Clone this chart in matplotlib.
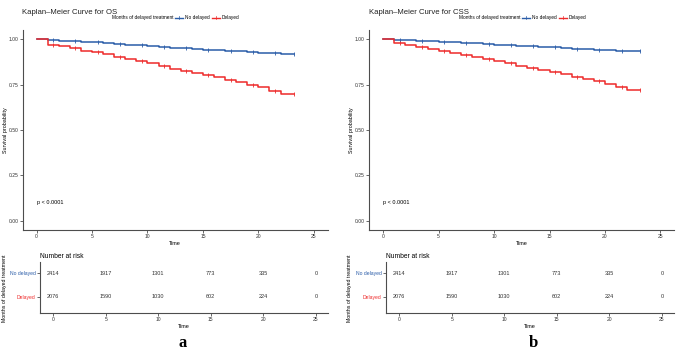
import matplotlib.pyplot as plt
import numpy as np
from matplotlib.lines import Line2D

plt.rcParams['font.family'] = ['Liberation Sans', 'DejaVu Sans']

# ---- data ----
months = [0, 1, 2, 3, 4, 5, 6, 7, 8, 9, 10, 11, 12, 13, 14, 15, 16, 17, 18, 19, 20, 21, 22, 23.2]

os_no_delay = [1.000, 0.995, 0.992, 0.989, 0.986, 0.982, 0.977, 0.973, 0.969, 0.967, 0.964, 0.958,
               0.953, 0.950, 0.946, 0.942, 0.940, 0.937, 0.935, 0.931, 0.926, 0.922, 0.917, 0.917]
os_delay = [1.000, 0.970, 0.962, 0.950, 0.937, 0.927, 0.917, 0.904, 0.891, 0.880, 0.868, 0.852,
            0.837, 0.826, 0.815, 0.804, 0.789, 0.774, 0.762, 0.750, 0.735, 0.717, 0.700, 0.700]

css_no_delay = [1.000, 0.995, 0.993, 0.990, 0.988, 0.985, 0.982, 0.979, 0.976, 0.973, 0.970, 0.967,
                0.963, 0.960, 0.957, 0.954, 0.951, 0.948, 0.945, 0.942, 0.939, 0.935, 0.932, 0.932]
css_delay = [1.000, 0.981, 0.968, 0.957, 0.946, 0.935, 0.925, 0.914, 0.902, 0.891, 0.880, 0.866,
             0.852, 0.841, 0.831, 0.819, 0.806, 0.793, 0.781, 0.768, 0.754, 0.737, 0.719, 0.719]

censor_times = [1.5, 3.5, 5.5, 7.5, 9.5, 11.5, 13.5, 15.5, 17.5, 19.5, 21.5, 23.2]

risk_times = [0, 5, 10, 15, 20, 25]
risk_no_delay = [2414, 1917, 1301, 773, 335, 0]
risk_delay = [2076, 1590, 1030, 602, 224, 0]

groups = ['No delayed', 'Delayed']
blue = '#2A5CA8'
red = '#EE2A2A'
grey = '#4D4D4D'

W, H = 676, 357
fig = plt.figure(figsize=(W / 100, H / 100), dpi=100)


def box(x0, y0, x1, y1):
    # pixel box (top-left origin) -> figure fraction rect
    return [x0 / W, 1 - y1 / H, (x1 - x0) / W, (y1 - y0) / H]


def fx(x):
    return x / W


def fy(y):
    return 1 - y / H


def style_axes(ax):
    for s in ['top', 'right']:
        ax.spines[s].set_visible(False)
    for s in ['left', 'bottom']:
        ax.spines[s].set_color(grey)
        ax.spines[s].set_linewidth(0.8)
    ax.tick_params(colors=grey, labelcolor='#333333', labelsize=3.6, length=2, width=0.6, pad=1.2)


def panel(dx, title, s_no, s_del, letter, main_left, tab_left, lab_x, letter_x):
    # title + legend
    fig.text(fx(dx + 22), fy(12), title, fontsize=5.6, color='#222222', va='center', ha='left')
    fig.text(fx(dx + 112), fy(17.5), 'Months of delayed treatment', fontsize=3.4, va='center', ha='left')
    for lx, tx, col, lab in [(175, 185, blue, groups[0]), (212, 222, red, groups[1])]:
        fig.add_artist(Line2D([fx(dx + lx), fx(dx + lx + 8)], [fy(17.5), fy(17.5)], color=col, lw=1.0))
        fig.add_artist(Line2D([fx(dx + lx + 4)] * 2, [fy(16), fy(19)], color=col, lw=0.5))
        fig.text(fx(dx + tx), fy(17.5), lab, fontsize=3.4, va='center', ha='left')

    # survival curves
    ax = fig.add_axes(box(main_left, 30, main_left + 305, 230))
    for surv, col in [(s_no, blue), (s_del, red)]:
        ax.step(months, surv, where='post', color=col, lw=1.1)
        cy = [surv[np.searchsorted(months, t, side='right') - 1] for t in censor_times]
        ax.plot(censor_times, cy, ls='none', marker='|', ms=2.2, mew=0.6, color=col)
    ax.set_xlim(-1.25, 26.25)
    ax.set_ylim(-0.05, 1.05)
    ax.set_xticks(risk_times)
    ax.set_yticks([0, 0.25, 0.5, 0.75, 1.0])
    ax.set_yticklabels(['0.00', '0.25', '0.50', '0.75', '1.00'])
    style_axes(ax)
    ax.set_xlabel('Time', fontsize=4.0, labelpad=1)
    fig.text(fx(main_left - 17.5), fy(130), 'Survival probability', fontsize=3.9, rotation=90,
             ha='center', va='center')
    ax.text(0, 0.10, 'p < 0.0001', fontsize=4.0, ha='left', va='center')

    # risk table
    fig.text(fx(tab_left), fy(256), 'Number at risk', fontsize=4.8, ha='left', va='center')
    tab = fig.add_axes(box(tab_left, 262, tab_left + 288, 313))
    for yv, counts in [(2, risk_no_delay), (1, risk_delay)]:
        for t, n in zip(risk_times, counts):
            tab.text(t, yv, str(n), fontsize=4.0, ha='center', va='center', color='#333333')
    tab.set_xlim(-1.25, 26.15)
    tab.set_ylim(0.33, 2.46)
    tab.set_xticks(risk_times)
    tab.set_yticks([2, 1])
    tab.set_yticklabels(groups)
    style_axes(tab)
    tab.tick_params(axis='y', labelsize=3.6, pad=1)
    tab.get_yticklabels()[0].set_color(blue)
    tab.get_yticklabels()[1].set_color(red)
    tab.set_xlabel('Time', fontsize=4.0, labelpad=1)
    fig.text(fx(lab_x), fy(288), 'Months of delayed treatment', fontsize=3.8, rotation=90,
             ha='center', va='center')

    fig.text(fx(letter_x), fy(343), letter, fontsize=12, fontweight='bold',
             family='Liberation Serif', ha='center', va='center')


panel(0, 'Kaplan\u2013Meier Curve for OS', os_no_delay, os_delay, 'a', 22.7, 40, 5, 183)
panel(347, 'Kaplan\u2013Meier Curve for CSS', css_no_delay, css_delay, 'b', 369.3, 386, 350, 533)

fig.savefig('out.png', dpi=100)
